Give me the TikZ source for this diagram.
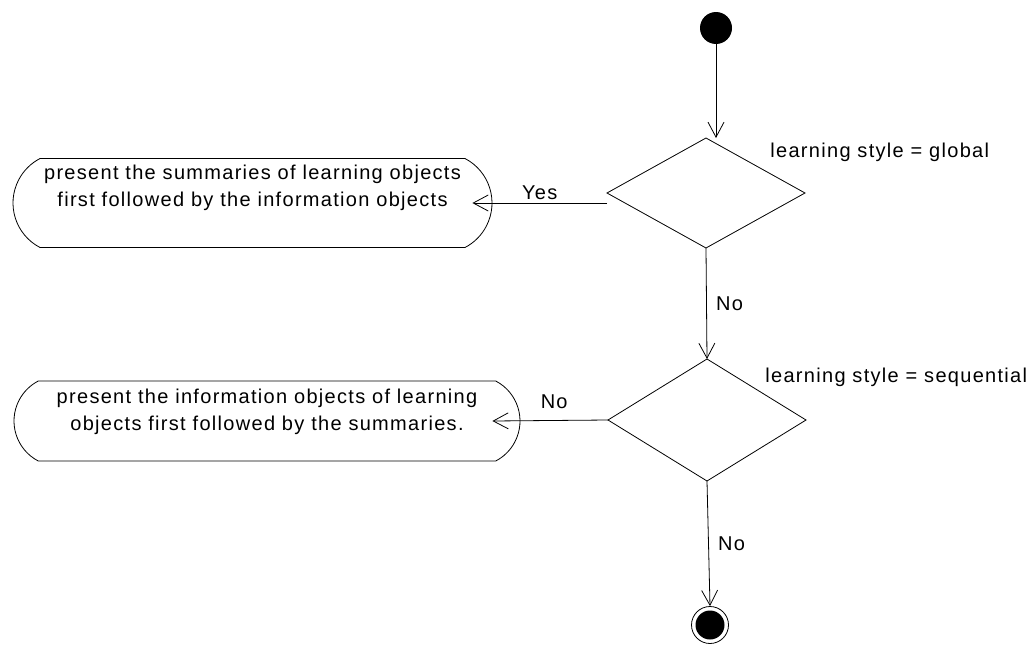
\documentclass[tikz,border=0pt]{standalone}
\usepackage{fontspec}
\setmainfont{Liberation Sans}[LetterSpace=6.5]
\usetikzlibrary{positioning,shapes.geometric,shapes.misc,arrows.meta}
\tikzset{activity/.style={rounded rectangle,rounded rectangle arc length=125,draw,align=center,inner sep=0pt},
	decision/.style={diamond,draw,inner sep=0pt,outer sep=0pt,minimum width=198pt},
	start node/.style={circle,fill=black,minimum size=32pt,inner sep=0pt},
	end node/.style={circle,draw,minimum size=37pt,inner sep=0pt,
		path picture={\fill[black] (path picture bounding box.center) circle (14.5pt);}},
	guard/.style={anchor=west,inner sep=0pt},
}

\begin{document}
\begin{tikzpicture}[x=1pt,y=-1pt,line width=0.8pt,font=\fontsize{20}{27}\selectfont,
	every edge/.append style={-{Straight Barb[length=15pt,width=16pt,line width=0.8pt]}}]
	\useasboundingbox (0,0) rectangle (1036,645);
	\node[start node] (s) at (716,28) {};
	\node[decision,minimum height=110pt] (d1) at (706,193) {};
	\node[activity,minimum width=479pt,minimum height=89pt] (b1) at (252.5,203)
		{present the summaries of learning objects\\first followed by the information objects\\[8pt]\mbox{}};
	\node[decision,minimum height=122pt] (d2) at (707,420) {};
	\node[activity,minimum width=506pt,minimum height=80pt] (b2) at (267,421)
		{present the information objects of learning\\objects first followed by the summaries.\\[-4pt]\mbox{}};
	\node[end node] (e) at (710,625) {};
	
	\node[guard] (g1) at (770,152) {learning style = global};
	\node[guard] (g2) at (765,377) {learning style = sequential};
	
	\path[draw]
	(s) edge (s |- d1.north)
	(d1.west |- b1.east) edge node[above] {Yes} ([xshift=-20pt]b1.east)
	(d1.south) edge node[right=6pt] {No} (d2.north)
	(d2.west) edge node[above,xshift=4pt,yshift=8pt] {No} ([xshift=-28pt]b2.east)
	(d2.south) edge node[right=6pt] {No} (e.north);
\end{tikzpicture}
\end{document}
